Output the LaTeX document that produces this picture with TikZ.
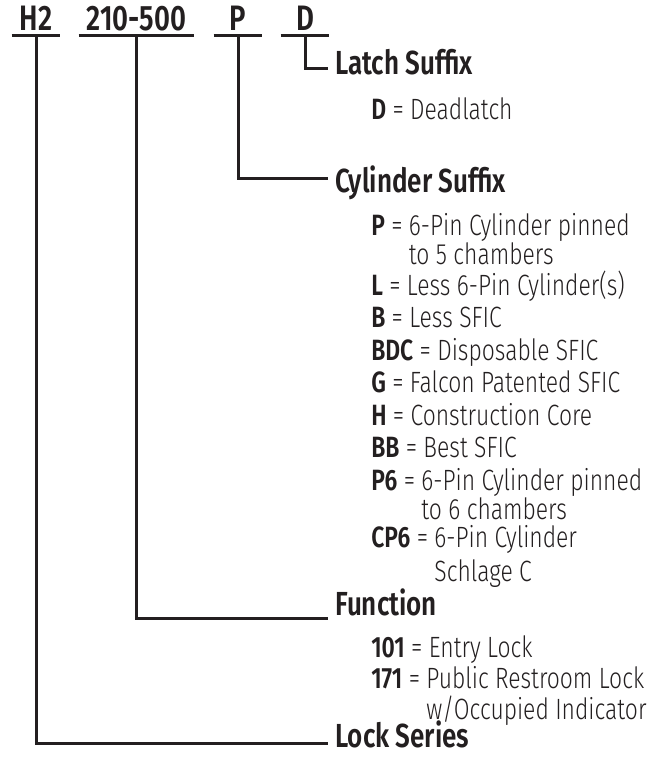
\documentclass[tikz,border=0pt]{standalone}
\usepackage{fontspec}
\setmainfont{Fira Sans}[UprightFont=* Light, BoldFont=* SemiBold, FakeStretch=0.78]
\usepackage{xcolor}
\usepackage{tikz}
\usetikzlibrary{positioning, calc}
\definecolor{ink}{HTML}{231F20}
\newcommand{\opt}[2]{\textbf{#1} = \begin{tabular}[t]{@{}l@{}}#2\end{tabular}}

\begin{document}
\begin{tikzpicture}[
    x=0.75pt, y=-0.75pt,
    code/.style={font=\fontsize{26.5}{28}\selectfont\bfseries, text=ink, inner xsep=0pt, inner ysep=3.75pt, anchor=south},
    heading/.style={font=\fontsize{25}{27}\selectfont\bfseries, text=ink, anchor=base west, inner sep=0pt},
    item/.style={font=\fontsize{22}{18.75}\selectfont, text=ink, anchor=base west, inner sep=0pt},
    link/.style={draw=ink, line width=2.25pt},
]
\useasboundingbox (0,0) rectangle (668,759);

% part number
\node[code, minimum width=36pt] (h2) at (36,36) {H2};
\node[code, minimum width=86.25pt] (func) at (136.5,36) {210-500};
\node[code, minimum width=36pt] (cyl) at (238,36) {P};
\node[code, minimum width=36pt] (latch) at (305,36) {D};
\foreach \n in {h2, func, cyl, latch}
    \draw[link] (\n.south west) -- (\n.south east);

% headings
\node[heading] (latchhd) at (335,75) {Latch Suffix};
\node[heading] (cylhd) at (335,193) {Cylinder Suffix};
\node[heading] (funchd) at (335,615) {Function};
\node[heading] (serieshd) at (335,747) {Lock Series};

% options
\node[item] (dl) at (371,120) {\opt{D}{Deadlatch}};
\node[item] (p) at (371,235) {\opt{P}{6-Pin Cylinder pinned\\to 5 chambers}};
\node[item] (l) at (371,295) {\opt{L}{Less 6-Pin Cylinder(s)}};
\node[item] (b) at (371,327) {\opt{B}{Less SFIC}};
\node[item] (bdc) at (371,360) {\opt{BDC}{Disposable SFIC}};
\node[item] (g) at (371,392) {\opt{G}{Falcon Patented SFIC}};
\node[item] (h) at (371,425) {\opt{H}{Construction Core}};
\node[item] (bb) at (371,457) {\opt{BB}{Best SFIC}};
\node[item] (p6) at (371,490) {\opt{P6}{6-Pin Cylinder pinned\\to 6 chambers}};
\node[item] (cp6) at (371,547) {\opt{CP6}{6-Pin Cylinder\\[3.75pt]Schlage C}};
\node[item] (entry) at (371,657) {\opt{101}{Entry Lock}};
\node[item] (rest) at (371,688) {\opt{171}{Public Restroom Lock\\w/Occupied Indicator}};

% leaders
\draw[link] (latch.south) |- ([shift={(-7,-6)}]latchhd.base west);
\draw[link] (cyl.south) |- ([shift={(-7,-14)}]cylhd.base west);
\draw[link] (func.south) |- ([shift={(-7,3)}]funchd.base west);
\draw[link] (h2.south) |- ([shift={(-7,-4)}]serieshd.base west);
\end{tikzpicture}
\end{document}
